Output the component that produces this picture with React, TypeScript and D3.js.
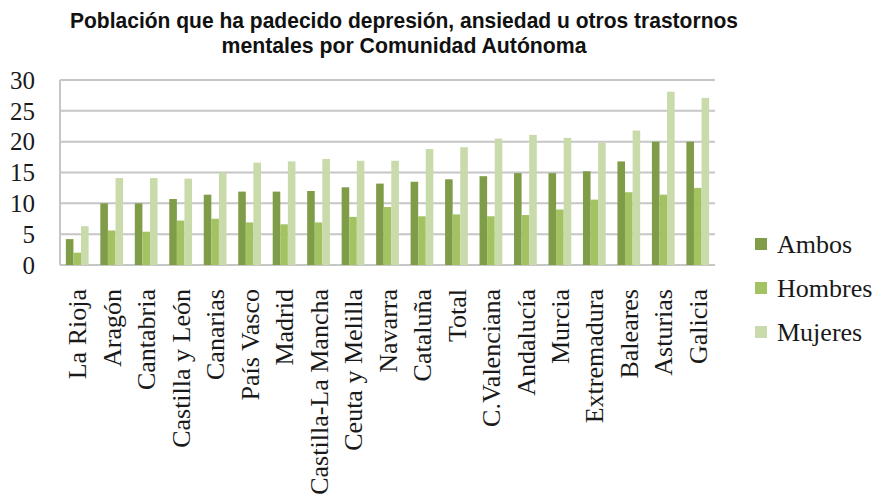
import React from "react";
import * as d3 from "d3";

const categories = [
  "La Rioja", "Aragón", "Cantabria", "Castilla y León", "Canarias", "País Vasco",
  "Madrid", "Castilla-La Mancha", "Ceuta y Melilla", "Navarra", "Cataluña", "Total",
  "C.Valenciana", "Andalucía", "Murcia", "Extremadura", "Baleares", "Asturias", "Galicia",
];
const ambos = [4.2, 10.0, 10.0, 10.7, 11.4, 11.9, 11.9, 12.0, 12.6, 13.2, 13.5, 13.9, 14.4, 14.9, 14.9, 15.2, 16.8, 20.0, 20.0];
const hombres = [2.0, 5.6, 5.4, 7.2, 7.5, 6.9, 6.6, 6.9, 7.8, 9.4, 7.9, 8.2, 7.9, 8.1, 9.0, 10.6, 11.8, 11.4, 12.5];
const mujeres = [6.3, 14.1, 14.1, 14.0, 15.0, 16.6, 16.8, 17.2, 16.9, 16.9, 18.8, 19.1, 20.5, 21.1, 20.6, 19.8, 21.8, 28.1, 27.1];
const seriesNames = ["Ambos", "Hombres", "Mujeres"];
const seriesColors = ["#7f9d48", "#a3c261", "#c9daab"];
const yTicks = [0, 5, 10, 15, 20, 25, 30];
const titleLines = [
  "Población que ha padecido depresión, ansiedad u otros trastornos",
  "mentales por Comunidad Autónoma",
];

export default function App() {
  const W = 879, H = 494;
  const left = 60, right = 715, top = 80, bottom = 265;
  const x = d3.scaleBand<string>().domain(categories).range([left, right]).paddingInner(0.34).paddingOuter(0.17);
  const xs = d3.scaleBand<string>().domain(seriesNames).range([0, x.bandwidth()]);
  const y = d3.scaleLinear().domain([0, 30]).range([bottom, top]);
  const data = [ambos, hombres, mujeres];
  const serif = "Liberation Serif, serif";
  return (
    <svg width={W} height={H} style={{ position: "absolute", left: 0, top: 0, background: "#fff" }}>
      <rect x={0} y={0} width={W} height={H} fill="#fff" />
      {titleLines.map((t, i) => (
        <text key={i} x={404} y={28 + i * 25} textAnchor="middle"
          fontFamily="Liberation Sans Narrow, Liberation Sans, sans-serif"
          fontWeight="bold" fontSize={22} fill="#111"
          textLength={i === 0 ? 668 : 365} lengthAdjust="spacingAndGlyphs">{t}</text>
      ))}
      {yTicks.map((t) => (
        <g key={t}>
          <line x1={left} x2={right} y1={y(t)} y2={y(t)} stroke="#c6c6c6" strokeWidth={2} />
          <text x={35} y={y(t)} dy="0.35em" textAnchor="end" fontFamily={serif} fontSize={25} fill="#1a1a1a">{t}</text>
        </g>
      ))}
      <line x1={left} x2={left} y1={top} y2={bottom} stroke="#c6c6c6" strokeWidth={2} />
      {data.map((vals, si) =>
        categories.map((c, ci) => (
          <rect key={si + "-" + ci}
            x={(x(c) as number) + (xs(seriesNames[si]) as number)}
            y={y(vals[ci])}
            width={xs.bandwidth()}
            height={y(0) - y(vals[ci])}
            fill={seriesColors[si]} />
        ))
      )}
      {categories.map((c) => {
        const cx = (x(c) as number) + x.bandwidth() / 2;
        return (
          <text key={c} transform={`translate(${cx},289) rotate(-90)`} dy="0.35em" textAnchor="end"
            fontFamily={serif} fontSize={26} fill="#1a1a1a">{c}</text>
        );
      })}
      {seriesNames.map((s, i) => (
        <g key={s}>
          <rect x={755} y={238 + i * 44} width={12} height={12} fill={seriesColors[i]} />
          <text x={777} y={244 + i * 44} dy="0.35em" fontFamily={serif} fontSize={26} fill="#1a1a1a">{s}</text>
        </g>
      ))}
    </svg>
  );
}
